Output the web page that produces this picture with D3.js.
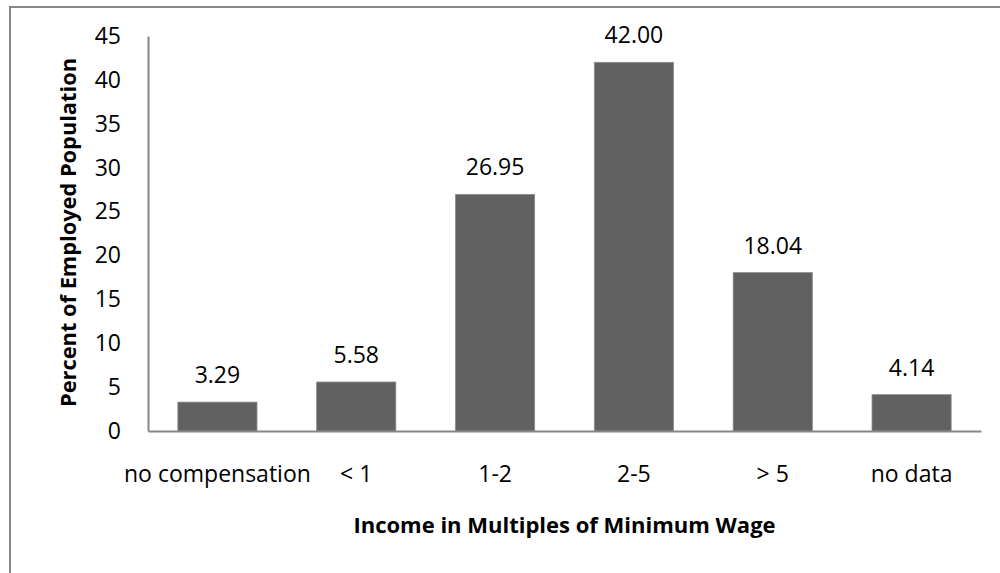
<!DOCTYPE html>
<html>
<head>
<meta charset="utf-8">
<script src="https://cdn.jsdelivr.net/npm/d3@7"></script>
<style>
  html, body { margin: 0; padding: 0; background: #fff; }
  svg { display: block; font-family: "Open Sans", sans-serif; }
</style>
</head>
<body>
<svg id="chart" width="1000" height="573"></svg>
<script>
// Share of employed population by income bracket (multiples of minimum wage)
const categories = ["no compensation", "< 1", "1-2", "2-5", "> 5", "no data"];
const percents = [3.29, 5.58, 26.95, 42.00, 18.04, 4.14];
const yTicks = [0, 5, 10, 15, 20, 25, 30, 35, 40, 45];

const svg = d3.select("#chart");

// outer frame (right and bottom edges fall outside the canvas)
svg.append("rect")
  .attr("x", 10).attr("y", 7)
  .attr("width", 1000).attr("height", 580)
  .attr("fill", "#fff")
  .attr("stroke", "#878787")
  .attr("stroke-width", 2);

const plot = { left: 148, right: 981, top: 36, bottom: 431 };

const x = d3.scaleBand()
  .domain(categories)
  .range([plot.left, plot.right])
  .paddingInner(0.43)
  .paddingOuter(0.215);

const y = d3.scaleLinear()
  .domain([0, 45])
  .range([plot.bottom, plot.top]);

// bars
svg.append("g")
  .selectAll("rect")
  .data(percents)
  .join("rect")
  .attr("x", (d, i) => x(categories[i]))
  .attr("y", d => y(d))
  .attr("width", x.bandwidth())
  .attr("height", d => y(0) - y(d))
  .attr("fill", "#616161")
  .attr("stroke", "#8a8a8a")
  .attr("stroke-width", 0.8);

// value labels
svg.append("g")
  .selectAll("text")
  .data(percents)
  .join("text")
  .attr("x", (d, i) => x(categories[i]) + x.bandwidth() / 2)
  .attr("y", d => y(d) - 19)
  .attr("text-anchor", "middle")
  .attr("font-size", 23)
  .attr("fill", "#000")
  .text(d => d.toFixed(2));

// y axis
const yAxis = svg.append("g")
  .attr("transform", `translate(${plot.left},0)`)
  .call(d3.axisLeft(y).tickValues(yTicks).tickSize(0).tickPadding(27));
yAxis.select(".domain").attr("stroke", "#868686").attr("stroke-width", 2);
yAxis.selectAll("text")
  .attr("font-size", 23)
  .attr("font-family", "'Open Sans', sans-serif")
  .attr("fill", "#000");

// x axis
const xAxis = svg.append("g")
  .attr("transform", `translate(0,${plot.bottom})`)
  .call(d3.axisBottom(x).tickSize(0).tickPadding(35));
xAxis.select(".domain").attr("stroke", "#868686").attr("stroke-width", 2);
xAxis.selectAll("text")
  .attr("font-size", 23)
  .attr("font-family", "'Open Sans', sans-serif")
  .attr("fill", "#000");

// axis titles
svg.append("text")
  .attr("x", (plot.left + plot.right) / 2)
  .attr("y", 533)
  .attr("text-anchor", "middle")
  .attr("font-size", 22)
  .attr("font-weight", "bold")
  .text("Income in Multiples of Minimum Wage");

svg.append("text")
  .attr("transform", `translate(76,${(plot.top + plot.bottom) / 2 - 1}) rotate(-90)`)
  .attr("text-anchor", "middle")
  .attr("font-size", 21.8)
  .attr("font-weight", "bold")
  .text("Percent of Employed Population");
</script>
</body>
</html>
